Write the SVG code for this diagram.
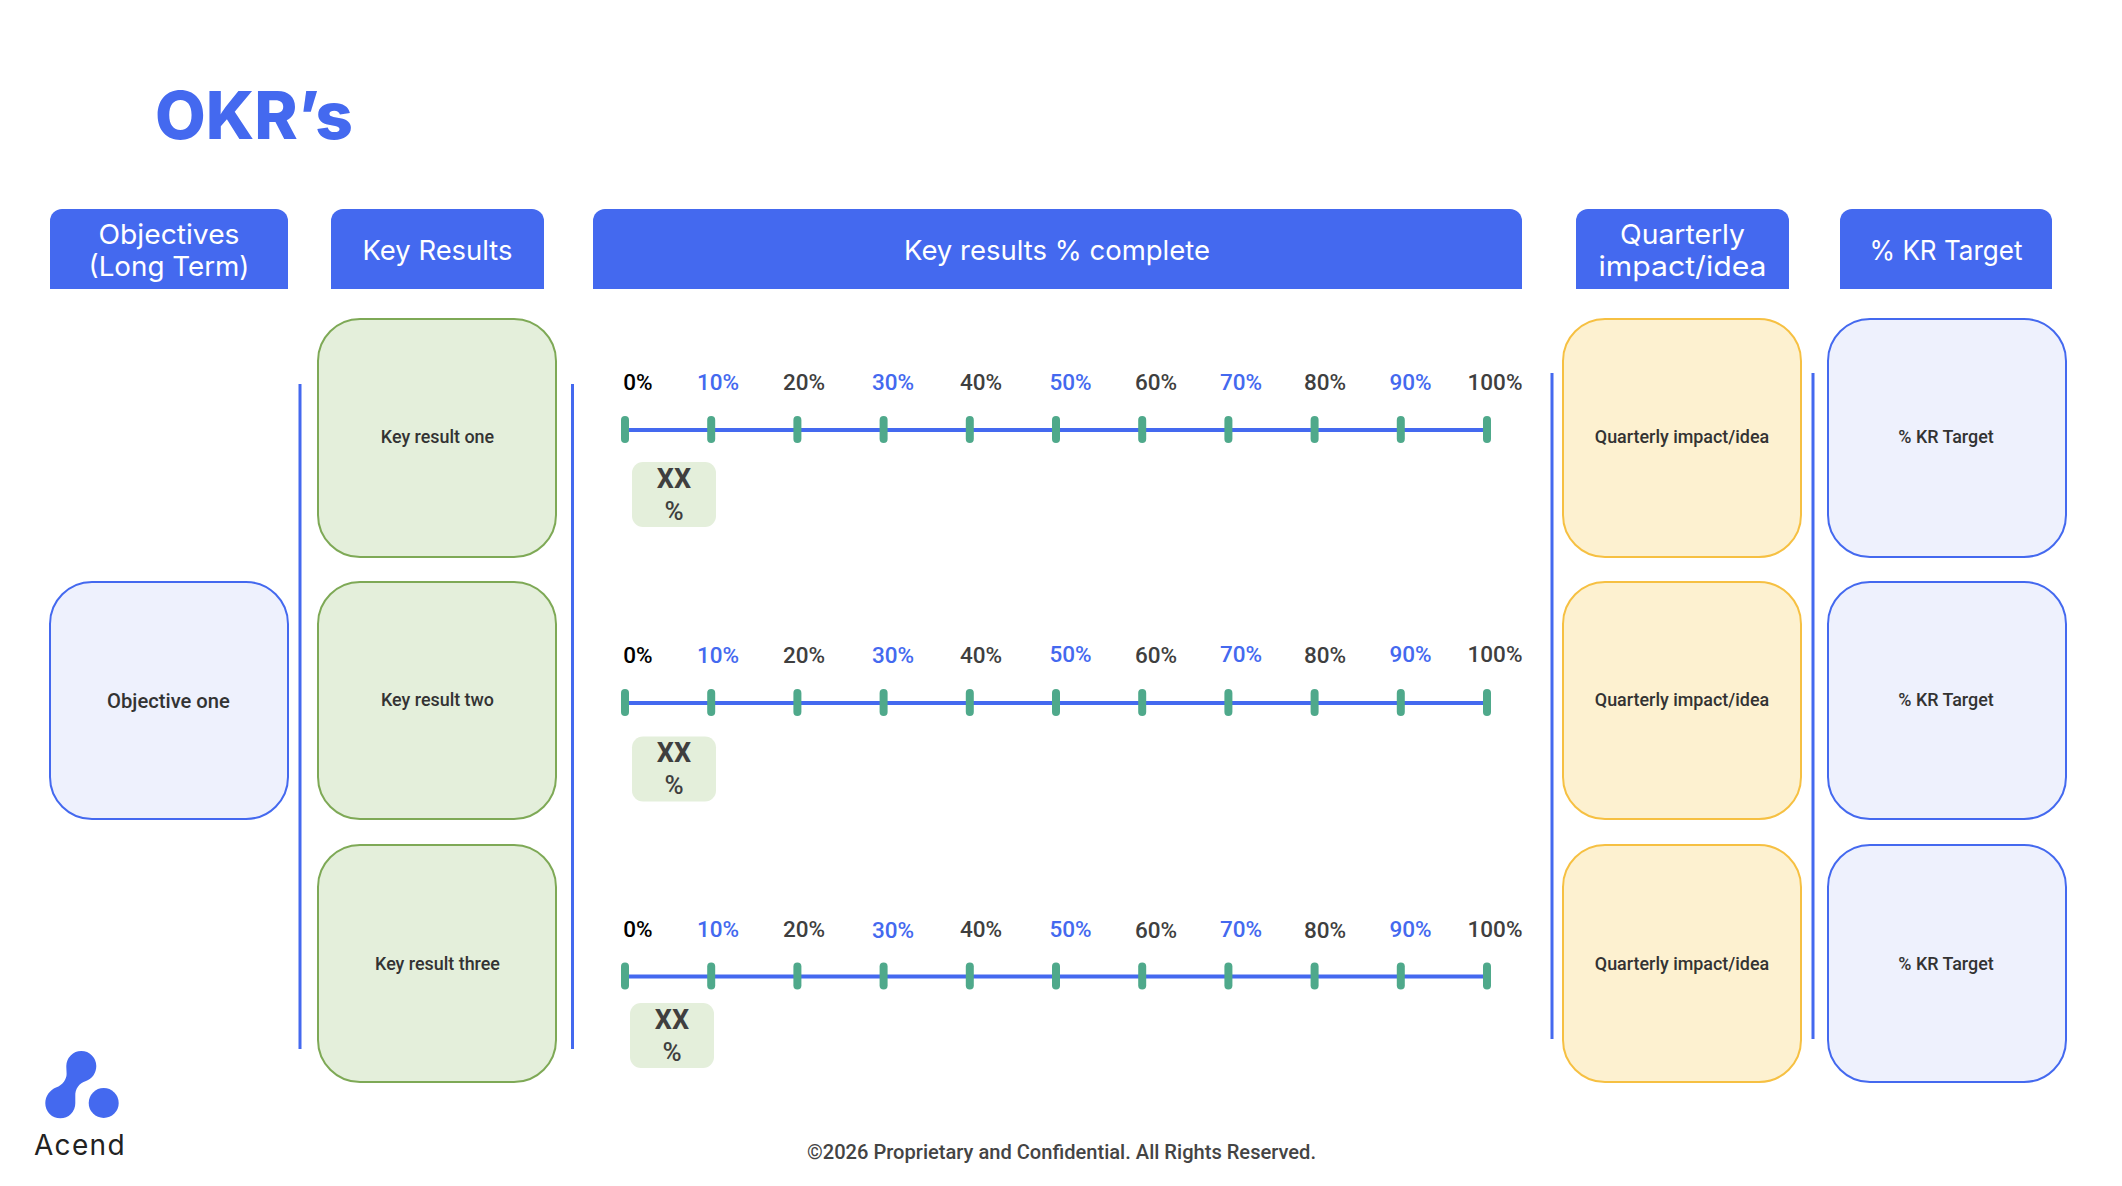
<svg xmlns="http://www.w3.org/2000/svg" width="2122" height="1186" viewBox="0 0 2122 1186">
<defs>
<style>
text{font-family:Roboto,"Liberation Sans",sans-serif}
.h{font-family:Inter,"Open Sans",sans-serif;font-size:27.500px;fill:#fff;text-anchor:middle}
.hd{fill:#4469EF}
.n{font-size:17.9px;font-weight:500;fill:#333;text-anchor:middle}
.g{fill:#E4EFDB;stroke:#7EA956;stroke-width:2}
.y{fill:#FDF1D0;stroke:#F6C042;stroke-width:2}
.b{fill:#EEF1FD;stroke:#4469EF;stroke-width:2}
.v{stroke:#4469EF;stroke-width:3;fill:none}
.ax{stroke:#4469EF;stroke-width:4;fill:none}
.tk{fill:#4FA98B}
.l{font-size:22.5px;font-weight:500;fill:#3f3f3f;text-anchor:middle}
.lb{fill:#4469EF}
.lk{fill:#000}
.bd{fill:#E4EFDB}
.xx{font-size:27px;font-weight:700;fill:#3f3f3f;text-anchor:middle}
.pc{font-size:26px;font-weight:500;fill:#3f3f3f;text-anchor:middle}
</style>
<g id="ticks">
<rect class="tk" x="621" y="-14" width="8" height="27" rx="4"/><rect class="tk" x="707.2" y="-14" width="8" height="27" rx="4"/><rect class="tk" x="793.4" y="-14" width="8" height="27" rx="4"/><rect class="tk" x="879.6" y="-14" width="8" height="27" rx="4"/><rect class="tk" x="965.8" y="-14" width="8" height="27" rx="4"/><rect class="tk" x="1052" y="-14" width="8" height="27" rx="4"/><rect class="tk" x="1138.2" y="-14" width="8" height="27" rx="4"/><rect class="tk" x="1224.4" y="-14" width="8" height="27" rx="4"/><rect class="tk" x="1310.6" y="-14" width="8" height="27" rx="4"/><rect class="tk" x="1396.8" y="-14" width="8" height="27" rx="4"/><rect class="tk" x="1483" y="-14" width="8" height="27" rx="4"/>
</g>
</defs>
<rect width="2122" height="1186" fill="#fff"/>
<text x="155" y="138.500" font-size="66" font-weight="800" fill="#4469EF" style="font-family:Inter,sans-serif" textLength="198" lengthAdjust="spacingAndGlyphs">OKR’s</text>
<g id="headers">
<g id="h-obj"><path class="hd" d="M50 289V221a12 12 0 0 1 12-12H276a12 12 0 0 1 12 12V289Z"/><text class="h" x="169" y="244" textLength="141" lengthAdjust="spacingAndGlyphs">Objectives</text><text class="h" x="169" y="276" textLength="161" lengthAdjust="spacingAndGlyphs">(Long Term)</text></g>
<g id="h-kr"><path class="hd" d="M331 289V221a12 12 0 0 1 12-12H532a12 12 0 0 1 12 12V289Z"/><text class="h" x="437.500" y="260" textLength="150" lengthAdjust="spacingAndGlyphs">Key Results</text></g>
<g id="h-pc"><path class="hd" d="M593 289V221a12 12 0 0 1 12-12H1510a12 12 0 0 1 12 12V289Z"/><text class="h" x="1057" y="260" textLength="306" lengthAdjust="spacingAndGlyphs">Key results % complete</text></g>
<g id="h-q"><path class="hd" d="M1576 289V221a12 12 0 0 1 12-12H1777a12 12 0 0 1 12 12V289Z"/><text class="h" x="1682.500" y="244" textLength="125" lengthAdjust="spacingAndGlyphs">Quarterly</text><text class="h" x="1682.500" y="276" textLength="168" lengthAdjust="spacingAndGlyphs">impact/idea</text></g>
<g id="h-t"><path class="hd" d="M1840 289V221a12 12 0 0 1 12-12H2040a12 12 0 0 1 12 12V289Z"/><text class="h" x="1946" y="260" textLength="153" lengthAdjust="spacingAndGlyphs">% KR Target</text></g>
</g>
<g id="connectors">
<path class="v" d="M300 384V1049"/><path class="v" d="M572.500 384V1049"/><path class="v" d="M1552 373V1039"/><path class="v" d="M1813 373V1039"/>
</g>
<g id="objective-one"><rect class="b" x="50" y="582" width="238" height="237" rx="42"/><text x="168.500" y="707.500" text-anchor="middle" font-size="20.2" font-weight="500" fill="#333">Objective one</text></g>
<g id="kr1"><rect class="g" x="318" y="319" width="238" height="238" rx="42"/><text class="n" x="437.500" y="443">Key result one</text></g>
<g id="kr2"><rect class="g" x="318" y="582" width="238" height="237" rx="42"/><text class="n" x="437.500" y="706">Key result two</text></g>
<g id="kr3"><rect class="g" x="318" y="845" width="238" height="237" rx="42"/><text class="n" x="437.500" y="970">Key result three</text></g>
<g id="q1"><rect class="y" x="1563" y="319" width="238" height="238" rx="42"/><text class="n" x="1682" y="443">Quarterly impact/idea</text></g>
<g id="q2"><rect class="y" x="1563" y="582" width="238" height="237" rx="42"/><text class="n" x="1682" y="706">Quarterly impact/idea</text></g>
<g id="q3"><rect class="y" x="1563" y="845" width="238" height="237" rx="42"/><text class="n" x="1682" y="970">Quarterly impact/idea</text></g>
<g id="t1"><rect class="b" x="1828" y="319" width="238" height="238" rx="42"/><text class="n" x="1946" y="443">% KR Target</text></g>
<g id="t2"><rect class="b" x="1828" y="582" width="238" height="237" rx="42"/><text class="n" x="1946" y="706">% KR Target</text></g>
<g id="t3"><rect class="b" x="1828" y="845" width="238" height="237" rx="42"/><text class="n" x="1946" y="970">% KR Target</text></g>
<g id="scale1">
<path class="ax" d="M625 430H1487"/><use href="#ticks" y="430"/>
<text class="l lk" x="638" y="390">0%</text><text class="l lb" x="718" y="390">10%</text><text class="l" x="804" y="390">20%</text><text class="l lb" x="893" y="390">30%</text><text class="l" x="981" y="390">40%</text><text class="l lb" x="1070.500" y="390">50%</text><text class="l" x="1156" y="390">60%</text><text class="l lb" x="1241" y="390">70%</text><text class="l" x="1325" y="390">80%</text><text class="l lb" x="1410.500" y="390">90%</text><text class="l" x="1495" y="390">100%</text>
<rect class="bd" x="632" y="462" width="84" height="65" rx="11"/><text class="xx" x="674" y="488">XX</text><text class="pc" x="674" y="520">%</text>
</g>
<g id="scale2">
<path class="ax" d="M625 703H1487"/><use href="#ticks" y="703"/>
<text class="l lk" x="638" y="663">0%</text><text class="l lb" x="718" y="663">10%</text><text class="l" x="804" y="663">20%</text><text class="l lb" x="893" y="663">30%</text><text class="l" x="981" y="663">40%</text><text class="l lb" x="1070.500" y="662">50%</text><text class="l" x="1156" y="663">60%</text><text class="l lb" x="1241" y="662">70%</text><text class="l" x="1325" y="663">80%</text><text class="l lb" x="1410.500" y="662">90%</text><text class="l" x="1495" y="662">100%</text>
<rect class="bd" x="632" y="736.500" width="84" height="65" rx="11"/><text class="xx" x="674" y="762">XX</text><text class="pc" x="674" y="794">%</text>
</g>
<g id="scale3">
<path class="ax" d="M625 976.500H1487"/><use href="#ticks" y="976.500"/>
<text class="l lk" x="638" y="937">0%</text><text class="l lb" x="718" y="937">10%</text><text class="l" x="804" y="937">20%</text><text class="l lb" x="893" y="938">30%</text><text class="l" x="981" y="937">40%</text><text class="l lb" x="1070.500" y="937">50%</text><text class="l" x="1156" y="938">60%</text><text class="l lb" x="1241" y="937">70%</text><text class="l" x="1325" y="938">80%</text><text class="l lb" x="1410.500" y="937">90%</text><text class="l" x="1495" y="937">100%</text>
<rect class="bd" x="630" y="1003" width="84" height="65" rx="11"/><text class="xx" x="672" y="1029">XX</text><text class="pc" x="672" y="1061">%</text>
</g>
<g id="logo">
<path fill="#4469EF" d="M66.300 1066a15 15 0 0 1 30 0C96.300 1073 92 1079 86 1081C79 1083 75 1089 75.300 1096C75.300 1099 75.300 1101 75.300 1103.300a15 15 0 0 1-30 0C45.300 1096 50 1090 56 1087.500C63 1085 66.600 1079 66.600 1074C66.600 1071 66.300 1069 66.300 1066Z"/>
<circle cx="103.700" cy="1103" r="15" fill="#4469EF"/>
<text x="34" y="1155" font-size="28" fill="#222" style="font-family:Inter,sans-serif;letter-spacing:1.300px">Acend</text>
</g>
<text x="1061.500" y="1159" text-anchor="middle" font-size="20.1" font-weight="500" fill="#444">©2026 Proprietary and Confidential. All Rights Reserved.</text>
</svg>
